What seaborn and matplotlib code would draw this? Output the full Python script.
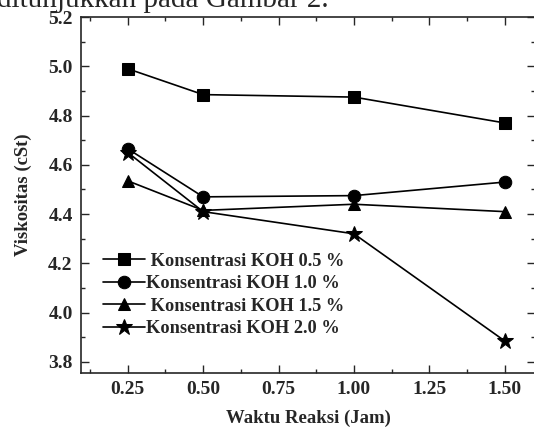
import pandas as pd
import numpy as np
import matplotlib
matplotlib.use("Agg")
import matplotlib.pyplot as plt
import seaborn as sns
from matplotlib.ticker import MultipleLocator

# data
waktu = [0.25, 0.50, 1.00, 1.50]
koh_05 = [4.99, 4.885, 4.875, 4.77]
koh_10 = [4.665, 4.47, 4.475, 4.53]
koh_15 = [4.535, 4.415, 4.44, 4.41]
koh_20 = [4.65, 4.41, 4.32, 3.885]
labels = [" Konsentrasi KOH 0.5 %", "Konsentrasi KOH 1.0 %",
          " Konsentrasi KOH 1.5 %", "Konsentrasi KOH 2.0 %"]

df = pd.DataFrame({
    "waktu": waktu * 4,
    "visk": koh_05 + koh_10 + koh_15 + koh_20,
    "seri": [l for l in labels for _ in waktu],
})

sns.set_style("ticks")
plt.rcParams["font.family"] = ["Liberation Serif", "DejaVu Serif"]

fig = plt.figure(figsize=(5.34, 4.32), dpi=100)
ax = fig.add_axes([0.1517, 0.1366, 0.850, 0.824])

markers = dict(zip(labels, ["s", "o", "^", "*"]))
sizes = dict(zip(labels, [8, 9, 9, 12]))
for lab in labels:
    d = df[df["seri"] == lab]
    sns.lineplot(data=d, x="waktu", y="visk", ax=ax, color="black",
                 marker=markers[lab], markersize=sizes[lab], linewidth=1.2,
                 markeredgecolor="black", label=lab)

ax.set_xlim(0.095, 1.6)
ax.set_ylim(3.755, 5.2)
ax.xaxis.set_major_locator(MultipleLocator(0.25))
ax.xaxis.set_minor_locator(MultipleLocator(0.125))
ax.yaxis.set_major_locator(MultipleLocator(0.2))
ax.yaxis.set_minor_locator(MultipleLocator(0.1))
ax.set_xticks([0.25, 0.5, 0.75, 1.0, 1.25, 1.5])
ax.set_xticklabels(["0.25", "0.50", "0.75", "1.00", "1.25", "1.50"])
ax.tick_params(which="both", direction="in", top=True, right=True, width=1)
ax.tick_params(which="major", length=6, labelsize=14, pad=6)
ax.tick_params(which="minor", length=3)
for t in ax.get_xticklabels() + ax.get_yticklabels():
    t.set_fontweight("bold")
for s in ax.spines.values():
    s.set_linewidth(1.2)

ax.set_xlabel("Waktu Reaksi (Jam)", fontsize=13.5, fontweight="bold", labelpad=8)
ax.set_ylabel("Viskositas (cSt)", fontsize=13.5, fontweight="bold", labelpad=12)

leg = ax.legend(loc="center left", bbox_to_anchor=(0.048, 0.219), frameon=False,
                prop={"weight": "bold", "size": 13.2}, handlelength=2.3,
                handletextpad=0.05, labelspacing=0.3, borderaxespad=0,
                borderpad=0)

fig.text(-0.005, 0.984, "ditunjukkan pada Gambar 2.", fontsize=21,
         ha="left", va="baseline")

fig.savefig("out.png", dpi=100)
